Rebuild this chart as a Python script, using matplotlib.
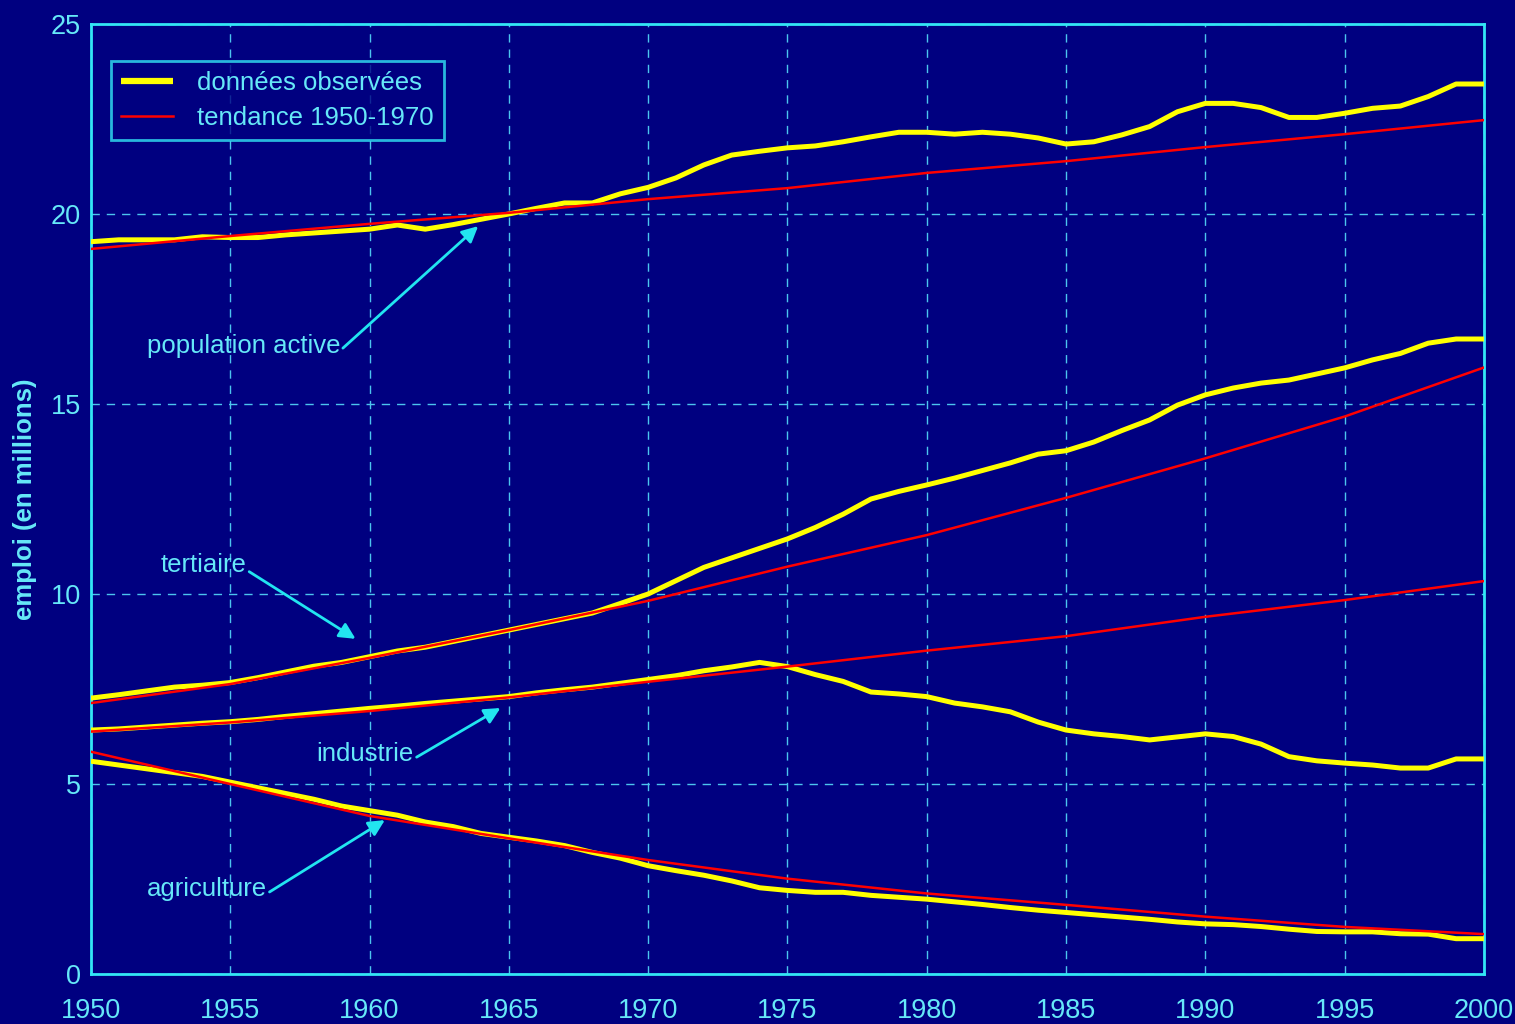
import numpy as np
import matplotlib
matplotlib.use("Agg")
import matplotlib.pyplot as plt

# years of observation
years = list(range(1950, 2001))

pop_active = [19.27, 19.32, 19.32, 19.32, 19.40, 19.38, 19.38, 19.45, 19.50, 19.55,
              19.60, 19.71, 19.60, 19.72, 19.86, 20.00, 20.15, 20.29, 20.29, 20.53,
              20.70, 20.95, 21.29, 21.55, 21.65, 21.74, 21.79, 21.90, 22.03, 22.15,
              22.15, 22.10, 22.15, 22.10, 22.00, 21.84, 21.90, 22.08, 22.30, 22.69,
              22.91, 22.91, 22.80, 22.54, 22.54, 22.65, 22.78, 22.84, 23.09, 23.42,
              23.42]
tertiaire = [7.26, 7.35, 7.45, 7.55, 7.60, 7.67, 7.80, 7.95, 8.10, 8.20,
             8.35, 8.50, 8.60, 8.75, 8.90, 9.05, 9.20, 9.35, 9.50, 9.75,
             10.00, 10.35, 10.70, 10.95, 11.20, 11.45, 11.75, 12.10, 12.50, 12.70,
             12.87, 13.05, 13.25, 13.45, 13.68, 13.77, 14.00, 14.30, 14.58, 14.97,
             15.24, 15.42, 15.55, 15.63, 15.79, 15.95, 16.16, 16.33, 16.60, 16.71,
             16.71]
industrie = [6.42, 6.45, 6.50, 6.55, 6.60, 6.64, 6.70, 6.78, 6.85, 6.92,
             6.99, 7.05, 7.12, 7.18, 7.24, 7.30, 7.40, 7.48, 7.55, 7.65,
             7.75, 7.85, 7.98, 8.08, 8.20, 8.09, 7.88, 7.70, 7.42, 7.37,
             7.30, 7.13, 7.03, 6.90, 6.63, 6.42, 6.32, 6.25, 6.16, 6.24,
             6.32, 6.25, 6.05, 5.72, 5.61, 5.55, 5.50, 5.42, 5.42, 5.66,
             5.66]
agriculture = [5.60, 5.50, 5.40, 5.30, 5.20, 5.05, 4.90, 4.75, 4.60, 4.42,
               4.30, 4.18, 4.00, 3.88, 3.70, 3.60, 3.50, 3.38, 3.20, 3.05,
               2.85, 2.72, 2.60, 2.45, 2.27, 2.20, 2.15, 2.15, 2.07, 2.02,
               1.97, 1.90, 1.83, 1.75, 1.68, 1.62, 1.56, 1.50, 1.44, 1.37,
               1.32, 1.30, 1.25, 1.18, 1.12, 1.11, 1.11, 1.06, 1.05, 0.93,
               0.93]

# 1950-1970 trends, read every five years
trend_years = [1950, 1955, 1960, 1965, 1970, 1975, 1980, 1985, 1990, 1995, 2000]
trend_pop = [19.08, 19.42, 19.74, 20.03, 20.39, 20.68, 21.08, 21.39, 21.76, 22.10, 22.47]
trend_tert = [7.13, 7.63, 8.32, 9.05, 9.82, 10.72, 11.55, 12.53, 13.57, 14.67, 15.96]
trend_ind = [6.38, 6.62, 6.92, 7.28, 7.69, 8.09, 8.51, 8.89, 9.40, 9.84, 10.34]
trend_agri_years = [1950, 1951, 1955, 1960, 1965, 1970, 1975, 1980, 1985, 1990, 1995, 2000]
trend_agri = [5.85, 5.68, 5.00, 4.16, 3.57, 3.00, 2.51, 2.12, 1.82, 1.51, 1.24, 1.05]

navy = "#000080"
cyan = "#33E6F5"
txt = "#66E8F8"
grid_c = "#4CC4EE"

plt.rcParams["font.family"] = ["Liberation Sans", "DejaVu Sans"]

fig = plt.figure(figsize=(15.15, 10.24), dpi=100, facecolor=navy)
ax = fig.add_axes([0.060, 0.0488, 0.9195, 0.9278], facecolor=navy)

for obs in [pop_active, tertiaire, industrie, agriculture]:
    ax.plot(years, obs, color="#FFFF00", lw=3.6, solid_capstyle="butt", zorder=3)
for ty, tr in [(trend_years, trend_pop), (trend_years, trend_tert),
               (trend_years, trend_ind), (trend_agri_years, trend_agri)]:
    ax.plot(ty, tr, color="#FF0000", lw=1.8, zorder=4)

# legend entries
h_obs, = ax.plot([], [], color="#FFFF00", lw=4.5, solid_capstyle="butt")
h_tr, = ax.plot([], [], color="#FF0000", lw=1.8)
leg = ax.legend([h_obs, h_tr], ["données observées", "tendance 1950-1970"],
                loc="upper left", bbox_to_anchor=(0.0144, 0.961), fontsize=18.5,
                frameon=True, fancybox=False, facecolor=navy, edgecolor=cyan,
                labelcolor=txt, handlelength=2.0, handletextpad=0.95,
                borderpad=0.4, labelspacing=0.42, borderaxespad=0)
leg.get_frame().set_linewidth(2)

ax.set_xlim(1950, 2000)
ax.set_ylim(0, 25)
ax.set_xticks(range(1950, 2001, 5))
ax.set_yticks(range(0, 26, 5))
ax.tick_params(colors=txt, labelsize=19.5, length=0)
ax.tick_params(axis="x", pad=17)
ax.tick_params(axis="y", pad=7)
for s in ax.spines.values():
    s.set_color(cyan)
    s.set_linewidth(2)
ax.grid(True, color=grid_c, ls=(0, (6, 5)), lw=1)
ax.set_axisbelow(True)
ax.set_ylabel("emploi (en millions)", color=txt, fontsize=18.5, fontweight="bold")
ax.yaxis.set_label_coords(-0.039, 0.5)

# annotations with arrows
notes = [("population active", (1963.9, 19.68), (1952.0, 16.53)),
         ("tertiaire", (1959.5, 8.82), (1952.5, 10.76)),
         ("industrie", (1964.7, 7.0), (1958.1, 5.79)),
         ("agriculture", (1960.55, 4.05), (1952.0, 2.24))]
for label, tip, pos in notes:
    ax.annotate(label, xy=tip, xytext=pos, color=txt, fontsize=18.5,
                ha="left", va="center", zorder=5,
                arrowprops=dict(arrowstyle="-|>", color="#22E5F0", lw=2,
                                mutation_scale=24, relpos=(1, 0.3),
                                shrinkA=0, shrinkB=0))

fig.savefig("out.png", dpi=100, facecolor=navy)
